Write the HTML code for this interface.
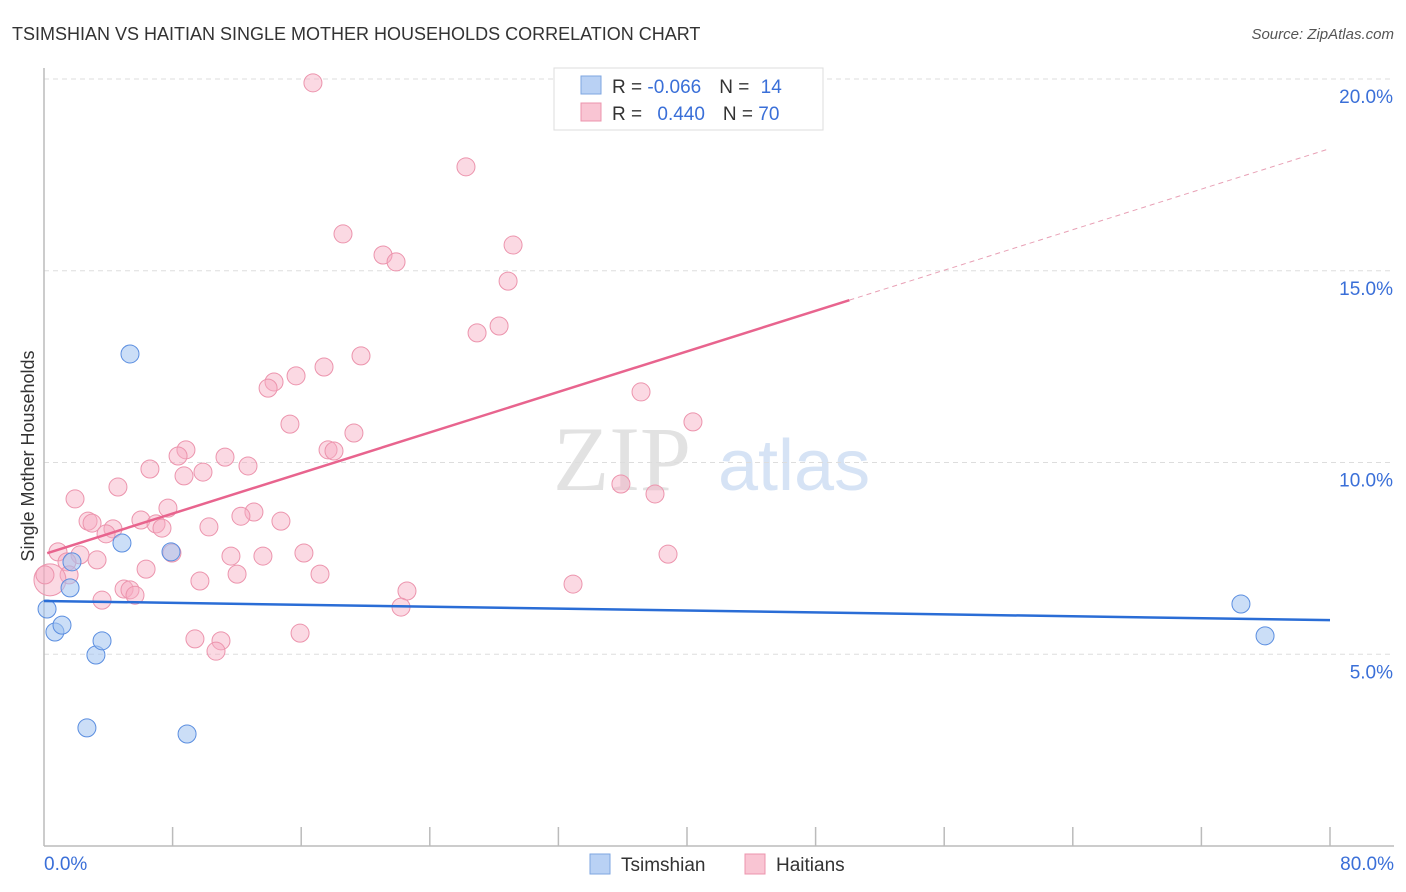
<!DOCTYPE html>
<html><head><meta charset="utf-8"><style>
body{margin:0;background:#fff;font-family:"Liberation Sans",sans-serif}
svg{display:block}
</style></head><body>
<svg id="chart" width="1406" height="892">
<text x="12" y="40" font-size="18" fill="#333">TSIMSHIAN VS HAITIAN SINGLE MOTHER HOUSEHOLDS CORRELATION CHART</text>
<text x="1394" y="39" font-size="15" fill="#555" font-style="italic" text-anchor="end">Source: ZipAtlas.com</text>
<text x="34" y="456" font-size="18" fill="#333" text-anchor="middle" transform="rotate(-90 34 456)">Single Mother Households</text>
<g><text x="553" y="490" font-size="92" fill="#e2e2e2" font-family="Liberation Serif,serif">ZIP</text><text x="718" y="490" font-size="72" fill="#d6e3f5">atlas</text></g>
<g id="grid"></g><g id="axes"></g><g id="pts"></g><g id="trends"></g>
<g>
<rect x="554" y="68" width="269" height="62" fill="#fff" stroke="#ddd"/>
<rect x="581" y="76" width="20" height="18" fill="#b9d1f4" stroke="#7ea6e0"/>
<rect x="581" y="103" width="20" height="18" fill="#f9c5d3" stroke="#ec94ad"/>
<text x="612" y="93" font-size="19" fill="#333">R = <tspan fill="#3a6fd8">-0.066</tspan><tspan dx="18">N = </tspan><tspan fill="#3a6fd8" dx="6">14</tspan></text>
<text x="612" y="120" font-size="19" fill="#333">R = <tspan fill="#3a6fd8" dx="10">0.440</tspan><tspan dx="18">N = </tspan><tspan fill="#3a6fd8">70</tspan></text>
</g>
<g>
<rect x="590" y="854" width="20" height="20" fill="#b9d1f4" stroke="#7ea6e0"/>
<text x="621" y="871" font-size="19" fill="#333">Tsimshian</text>
<rect x="745" y="854" width="20" height="20" fill="#f9c5d3" stroke="#ec94ad"/>
<text x="776" y="871" font-size="19" fill="#333">Haitians</text>
</g>
</svg>
<script>
const xTicks=[0,10,20,30,40,50,60,70,80];
const yTicks=[5,10,15,20];
const haitianX=[16.73,26.25,18.60,29.18,21.09,21.90,28.87,28.31,26.94,19.72,17.42,15.68,14.31,13.94,37.14,15.30,40.37,19.28,17.67,18.04,8.83,8.34,11.26,12.69,6.59,9.89,8.71,4.60,1.93,35.89,38.01,7.71,13.06,12.25,14.74,2.74,2.99,6.03,6.97,7.34,10.26,4.29,3.86,0.87,2.24,7.96,11.63,13.62,16.17,38.82,3.30,1.43,6.35,1.56,12.01,17.17,32.91,9.70,4.98,5.35,5.66,22.58,3.61,22.21,15.93,9.39,11.01,10.70,0.37,0.06];
const haitianY=[19.90,17.71,15.96,15.67,15.41,15.23,14.73,13.56,13.38,12.78,12.49,12.26,12.10,11.94,11.84,11.00,11.06,10.77,10.33,10.30,10.33,10.17,10.14,9.91,9.83,9.75,9.65,9.36,9.05,9.44,9.18,8.81,8.71,8.60,8.47,8.47,8.42,8.50,8.40,8.29,8.32,8.27,8.14,7.67,7.59,7.64,7.56,7.56,7.64,7.61,7.46,7.41,7.22,7.07,7.09,7.09,6.83,6.91,6.70,6.68,6.54,6.65,6.41,6.23,5.55,5.40,5.35,5.08,6.94,7.07];
const tsimX=[0.19,0.68,1.12,1.74,1.62,3.23,3.61,2.67,8.90,4.85,7.90,5.35,74.46,75.96];
const tsimY=[6.18,5.58,5.76,7.41,6.73,4.98,5.35,3.08,2.92,7.90,7.67,12.83,6.31,5.48];
const haitianTrend=[7.61,0.1322];
const tsimTrend=[6.39,-0.00625];
const NS='http://www.w3.org/2000/svg';
const X0=44,X1=1330,Y0=846,PPU=38.35;
const sx=v=>X0+(X1-X0)*v/80, sy=v=>Y0-v*PPU;
function mk(tag,attrs,parent){const e=document.createElementNS(NS,tag);for(const k in attrs)e.setAttribute(k,attrs[k]);document.getElementById(parent).appendChild(e);return e;}
yTicks.forEach(t=>{
 const l=mk('line',{x1:44,x2:1394,y1:sy(t),y2:sy(t),stroke:'#ddd','stroke-dasharray':'5,4'},'grid');
 
 
 const tx=mk('text',{x:1393,y:sy(t)+24,'font-size':19,fill:'#3a6fd8','text-anchor':'end'},'grid');
 tx.textContent=t.toFixed(1)+'%';
 
 
});
let a=mk('line',{x1:44,x2:44,y1:68,y2:846,stroke:'#bbb','stroke-width':1.5},'axes');


a=mk('line',{x1:44,x2:1394,y1:846,y2:846,stroke:'#bbb','stroke-width':1.5},'axes');


for(let i=1;i<=10;i++){const t=mk('line',{x1:sx(i*8),x2:sx(i*8),y1:827,y2:846,stroke:'#bbb','stroke-width':1.5},'axes');
 
 }
[[0,'start',44],[80,'end',1394]].forEach(([v,anc,x])=>{const t=mk('text',{x:x,y:870,'font-size':19,fill:'#3a6fd8','text-anchor':anc},'axes');t.textContent=v.toFixed(1)+'%';
 
 });
haitianX.forEach((x,i)=>{const r=(i===68)?16:9;const c=mk('circle',{cx:sx(x),cy:sy(haitianY[i]),r:r,fill:'rgba(246,170,192,0.45)',stroke:'#ec94ad','stroke-width':1},'pts');
 
 });
tsimX.forEach((x,i)=>{const c=mk('circle',{cx:sx(x),cy:sy(tsimY[i]),r:9,fill:'rgba(160,195,240,0.55)',stroke:'#5b8ee0','stroke-width':1},'pts');
 
 });
const ty=(tr,x)=>tr[0]+tr[1]*x;
let l=mk('line',{x1:sx(0.2),y1:sy(ty(haitianTrend,0.2)),x2:sx(50.1),y2:sy(ty(haitianTrend,50.1)),stroke:'#e8648e','stroke-width':2.5},'trends');


l=mk('line',{x1:sx(50.1),y1:sy(ty(haitianTrend,50.1)),x2:sx(80),y2:sy(ty(haitianTrend,80)),stroke:'#e8a0b5','stroke-width':1,'stroke-dasharray':'5,4'},'trends');


l=mk('line',{x1:sx(0),y1:sy(ty(tsimTrend,0)),x2:sx(80),y2:sy(ty(tsimTrend,80)),stroke:'#2a6dd6','stroke-width':2.5},'trends');


</script>
</body></html>
